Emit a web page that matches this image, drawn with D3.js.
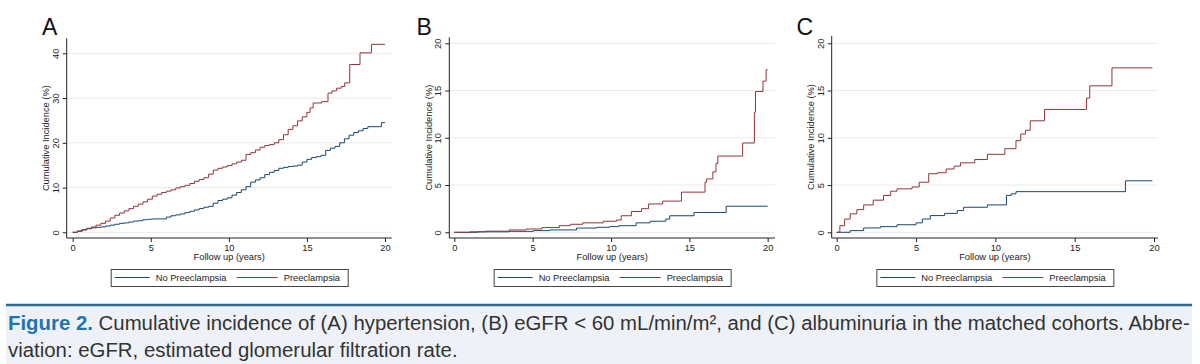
<!DOCTYPE html>
<html>
<head>
<meta charset="utf-8">
<script src="https://cdn.jsdelivr.net/npm/d3@7"></script>
<style>
	body { margin: 0; background: #fff; }
	svg { display: block; font-family: "Liberation Sans", Arial, sans-serif; }
</style>
</head>
<body>
<svg id="chart" width="1200" height="364"></svg>
<script>
// values, [years, cumulative incidence %]
var xTicks = [0, 5, 10, 15, 20];
var yTicksA = [0, 10, 20, 30, 40];
var yTicksBC = [0, 5, 10, 15, 20];
var panelLabels = ["A", "B", "C"];
var seriesNames = ["No Preeclampsia", "Preeclampsia"];

// A: hypertension
var hyperNo = [[0,0],[0.3,0.3],[0.6,0.6],[0.9,0.8],[1.2,1.0],[1.5,1.1],[1.8,1.2],[2.1,1.4],[2.4,1.6],[2.7,1.8],
	[3.0,2.0],[3.3,2.1],[3.6,2.3],[3.9,2.5],[4.2,2.6],[4.5,2.8],[4.8,2.9],[5.1,3.0],[5.7,3.0],[6.0,3.4],[6.3,3.7],
	[6.6,3.9],[6.9,4.1],[7.2,4.4],[7.5,4.7],[7.8,5.0],[8.1,5.3],[8.4,5.6],[8.7,5.8],[9.0,6.5],[9.3,7.1],[9.6,7.4],
	[9.9,7.7],[10.2,8.3],[10.5,8.9],[10.8,9.5],[11.1,10.2],[11.4,11.2],[11.7,11.7],[12.0,12.2],[12.3,12.9],
	[12.6,13.4],[12.9,13.8],[13.2,14.3],[13.5,14.5],[13.8,14.7],[14.1,14.8],[14.4,15.0],[14.7,15.7],[15.0,16.3],
	[15.3,16.7],[15.6,16.9],[15.9,17.2],[16.2,18.3],[16.5,18.8],[16.8,19.2],[17.1,20.0],[17.4,20.9],[17.7,21.7],
	[18.0,22.3],[18.3,22.7],[18.6,23.2],[18.9,23.6],[19.77,24.5],[20,24.5]];
var hyperPre = [[0,0],[0.3,0.2],[0.6,0.5],[0.9,0.9],[1.2,1.2],[1.5,1.6],[1.8,2.0],[2.1,2.5],[2.4,3.2],[2.7,3.8],
	[3.0,4.3],[3.3,4.8],[3.6,5.3],[3.9,5.8],[4.2,6.3],[4.5,6.8],[4.8,7.4],[5.1,8.1],[5.4,8.5],[5.7,8.9],[6.0,9.2],
	[6.3,9.5],[6.6,9.9],[6.9,10.2],[7.2,10.5],[7.5,10.9],[7.8,11.4],[8.1,11.8],[8.4,12.2],[8.7,13.0],[9.0,13.9],
	[9.3,14.3],[9.6,14.6],[9.9,14.9],[10.2,15.3],[10.5,15.7],[10.8,16.1],[11.1,17.4],[11.4,17.8],[11.7,18.4],
	[12.0,19.0],[12.3,19.4],[12.6,19.6],[12.9,20.0],[13.2,20.7],[13.5,21.8],[13.8,23.0],[14.1,23.8],[14.4,24.9],
	[14.7,25.8],[15.0,26.8],[15.2,27.8],[15.4,28.9],[15.95,29.2],[16.35,31.1],[16.6,31.6],[16.9,32.2],[17.2,32.6],
	[17.42,33.4],[17.74,37.5],[18.4,40.1],[19.13,42.0],[20,42.0]];

// B: eGFR < 60
var egfrNo = [[0,0],[1.5,0.05],[3.5,0.1],[5.05,0.18],[6.1,0.25],[7.8,0.45],[9.1,0.53],[9.9,0.6],[10.5,0.7],
	[11.6,1.0],[12.5,1.17],[13.5,1.4],[13.75,1.75],[15.3,2.1],[17.35,2.76],[20,2.76]];
var egfrPre = [[0,0],[1,0.05],[2,0.12],[3.5,0.25],[4.6,0.35],[5.6,0.5],[6.7,0.7],[7.4,0.85],[8.2,1.0],[9.5,1.17],
	[10.35,1.3],[10.65,1.75],[11.3,2.2],[11.95,2.5],[12.4,3.0],[13.3,3.3],[14.5,4.25],[16.0,5.3],[16.1,5.65],
	[16.5,6.4],[16.7,7.3],[16.82,8.07],[18.4,9.45],[19.15,12.7],[19.22,14.9],[19.7,16.0],[19.9,17.2],[20,17.2]];

// C: albuminuria
var albuNo = [[0,0],[0.85,0.18],[1.7,0.46],[2.75,0.6],[3.8,0.8],[5.0,1.0],[5.4,1.4],[5.9,1.77],[6.8,2.0],
	[7.6,2.3],[8.0,2.65],[9.5,2.9],[10.6,2.9],[10.7,3.9],[11.0,4.07],[11.3,4.3],[18.2,5.45],[19.9,5.45]];
var albuPre = [[0,0],[0.2,0.7],[0.5,1.4],[0.85,1.95],[1.27,2.4],[1.7,2.9],[2.3,3.4],[2.95,3.9],[3.4,4.35],
	[3.8,4.6],[4.75,4.8],[5.2,5.3],[5.8,6.2],[6.35,6.3],[6.9,6.7],[7.4,7.0],[7.8,7.35],[8.7,7.7],[9.5,8.25],
	[10.6,8.85],[11.3,9.7],[11.6,10.4],[11.9,10.8],[12.2,11.8],[13.1,13.0],[15.75,14.2],[15.95,15.5],
	[17.35,17.4],[19.9,17.4]];

var colors = ["#1a476f", "#90353b"];

var panels = [
	{ label: panelLabels[0], series: [hyperNo, hyperPre], yTicks: yTicksA, yMax: 40,
	  left: 66.7, right: 391.7, top: 38.3, bottom: 238, x0: 72.7, x20: 385, y0: 232.3, yTop: 53.3, labelX: 42 },
	{ label: panelLabels[1], series: [egfrNo, egfrPre], yTicks: yTicksBC, yMax: 20,
	  left: 449.3, right: 775, top: 37.3, bottom: 238, x0: 454.3, x20: 767.7, y0: 232.3, yTop: 43.3, labelX: 416.5 },
	{ label: panelLabels[2], series: [albuNo, albuPre], yTicks: yTicksBC, yMax: 20,
	  left: 831.7, right: 1158, top: 36, bottom: 238, x0: 836.7, x20: 1154, y0: 232.3, yTop: 43.3, labelX: 796.5 }
];

var svg = d3.select("#chart");

function drawPanel(p) {
	var g = svg.append("g");
	var x = d3.scaleLinear().domain([0, 20]).range([p.x0, p.x20]);
	var y = d3.scaleLinear().domain([0, p.yMax]).range([p.y0, p.yTop]);

	// grid
	g.selectAll(".grid").data(p.yTicks).enter()
		.append("line")
			.attr("x1", p.left + 1).attr("x2", p.right)
			.attr("y1", function(d) { return y(d); })
			.attr("y2", function(d) { return y(d); })
			.attr("stroke", "#ebebeb")
			.attr("stroke-width", 1);

	// curves
	var line = d3.line()
		.curve(d3.curveStepAfter)
		.x(function(d) { return x(d[0]); })
		.y(function(d) { return y(d[1]); });

	g.selectAll(".curve").data(p.series).enter()
		.append("path")
			.attr("d", line)
			.attr("fill", "none")
			.attr("stroke", function(d, i) { return colors[i]; })
			.attr("stroke-width", 1);

	// x axis
	var xa = g.append("g")
		.attr("transform", "translate(0," + p.bottom + ")")
		.call(d3.axisBottom(x).tickValues(xTicks).tickSize(4).tickPadding(2.5).tickSizeOuter(0));
	xa.select(".domain").remove();
	xa.selectAll("text").style("font-size", "9.3px").attr("fill", "#222");
	xa.selectAll("line").attr("stroke", "#222");

	// y axis
	var ya = g.append("g")
		.attr("transform", "translate(" + p.left + ",0)")
		.call(d3.axisLeft(y).tickValues(p.yTicks).tickSize(4).tickSizeOuter(0));
	ya.select(".domain").remove();
	ya.selectAll("line").attr("stroke", "#222");
	ya.selectAll("text")
		.attr("transform", "rotate(-90)")
		.attr("x", 0).attr("y", -8).attr("dy", 0)
		.style("text-anchor", "middle")
		.style("font-size", "9.3px")
		.attr("fill", "#222");

	// frame lines
	g.append("line")
		.attr("x1", p.left).attr("x2", p.left).attr("y1", p.top).attr("y2", p.bottom)
		.attr("stroke", "#222");
	g.append("line")
		.attr("x1", p.left).attr("x2", p.right).attr("y1", p.bottom).attr("y2", p.bottom)
		.attr("stroke", "#222");

	// titles
	var mid = (p.left + p.right) / 2;
	g.append("text")
		.attr("x", mid).attr("y", 260)
		.attr("text-anchor", "middle")
		.style("font-size", "9.3px").attr("fill", "#222")
		.text("Follow up (years)");
	g.append("text")
		.attr("transform", "translate(" + (p.left - 17.5) + "," + ((p.top + p.bottom) / 2) + ") rotate(-90)")
		.attr("text-anchor", "middle")
		.style("font-size", "9.3px").attr("fill", "#222")
		.text("Cumulative Incidence (%)");
	g.append("text")
		.attr("x", p.labelX).attr("y", 35)
		.style("font-size", "23px").attr("fill", "#111")
		.text(p.label);

	// legend
	var lx = mid - 118.5;
	var lg = g.append("g").attr("transform", "translate(" + lx + ",269)");
	lg.append("rect")
		.attr("x", 0.5).attr("y", 0.5).attr("width", 237).attr("height", 17)
		.attr("fill", "#fff").attr("stroke", "#444");
	var items = [{ x1: 4, x2: 39, tx: 45 }, { x1: 126, x2: 167, tx: 173 }];
	items.forEach(function(it, i) {
		lg.append("line")
			.attr("x1", it.x1).attr("x2", it.x2).attr("y1", 8.5).attr("y2", 8.5)
			.attr("stroke", colors[i]).attr("stroke-width", 1);
		lg.append("text")
			.attr("x", it.tx).attr("y", 12)
			.style("font-size", "9.3px").attr("fill", "#222")
			.text(seriesNames[i]);
	});
}

panels.forEach(drawPanel);

// caption
var cap = svg.append("g");
cap.append("rect")
	.attr("x", 6).attr("y", 305).attr("width", 1186).attr("height", 59)
	.attr("fill", "#eef2f8");
cap.append("line")
	.attr("x1", 6).attr("x2", 1192).attr("y1", 305).attr("y2", 305)
	.attr("stroke", "#2a6a90").attr("stroke-width", 2.5);

var line1 = cap.append("text").attr("x", 8).attr("y", 330).style("font-size", "18px").attr("fill", "#333");
line1.append("tspan").style("font-weight", "bold").attr("fill", "#1f74b0").text("Figure 2.");
line1.append("tspan").text(" Cumulative incidence of (A) hypertension, (B) eGFR < 60 mL/min/m\u00b2, and (C) albuminuria in the matched cohorts. Abbre-");
var line2 = cap.append("text").attr("x", 8).attr("y", 357).style("font-size", "18px").attr("fill", "#333")
	.text("viation: eGFR, estimated glomerular filtration rate.");

var len = line1.node().getComputedTextLength();
var fs = 18 * 1182 / len;
line1.style("font-size", fs + "px");
line2.style("font-size", fs + "px");
</script>
</body>
</html>
